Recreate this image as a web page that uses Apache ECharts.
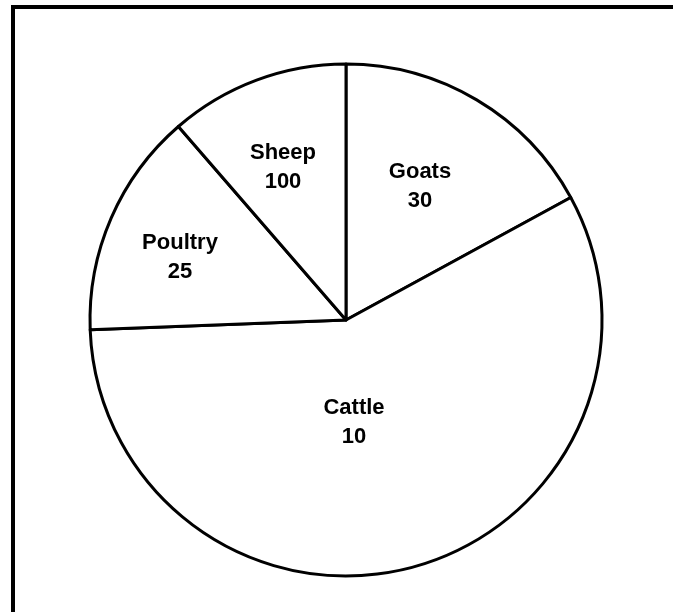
<!DOCTYPE html>
<html>
<head>
<meta charset="utf-8">
<script src="https://cdn.jsdelivr.net/npm/echarts@6/dist/echarts.min.js"></script>
<style>
html,body{margin:0;padding:0;background:#fff;}
#chart{width:673px;height:612px;}
</style>
</head>
<body>
<div id="chart"></div>
<script>
// Data (clockwise from 12 o'clock)
const categories = ['Goats', 'Cattle', 'Poultry', 'Sheep'];
const sliceSizes = [61.4, 206.4, 51.3, 40.9];   // slice extents (degrees) as drawn
const labelValues = [30, 10, 25, 100];           // numbers printed in slices

// Style / layout config
const pieCenter = [346, 320];
const pieRadius = 256;
const labelPos = {            // label block centres relative to pie centre (px)
  Goats: [74, -134],
  Cattle: [8, 102],
  Poultry: [-166, -63],
  Sheep: [-63, -153]
};

const chart = echarts.init(document.getElementById('chart'), null, {renderer: 'canvas'});
chart.setOption({
  animation: false,
  backgroundColor: '#ffffff',
  graphic: [
    {type: 'rect', shape: {x: 11, y: 5, width: 662, height: 4}, style: {fill: '#000'}},
    {type: 'rect', shape: {x: 11, y: 5, width: 4, height: 607}, style: {fill: '#000'}}
  ],
  series: [{
    type: 'pie',
    center: pieCenter,
    radius: pieRadius,
    startAngle: 90,
    clockwise: true,
    avoidLabelOverlap: false,
    silent: true,
    itemStyle: {color: '#ffffff', borderColor: '#000000', borderWidth: 3},
    label: {
      show: true,
      position: 'inside',
      formatter: p => p.name + '\n' + labelValues[p.dataIndex],
      fontFamily: 'Liberation Sans, Arial, sans-serif',
      fontWeight: 'bold',
      fontSize: 22,
      lineHeight: 29,
      color: '#000',
      align: 'center'
    },
    labelLine: {show: false},
    emphasis: {disabled: true},
    labelLayout: function (params) {
      const name = categories[params.dataIndex];
      const off = labelPos[name];
      return {
        x: pieCenter[0] + off[0],
        y: pieCenter[1] + off[1],
        align: 'center',
        verticalAlign: 'middle'
      };
    },
    data: categories.map((c, i) => ({name: c, value: sliceSizes[i]}))
  }]
});
</script>
</body>
</html>
